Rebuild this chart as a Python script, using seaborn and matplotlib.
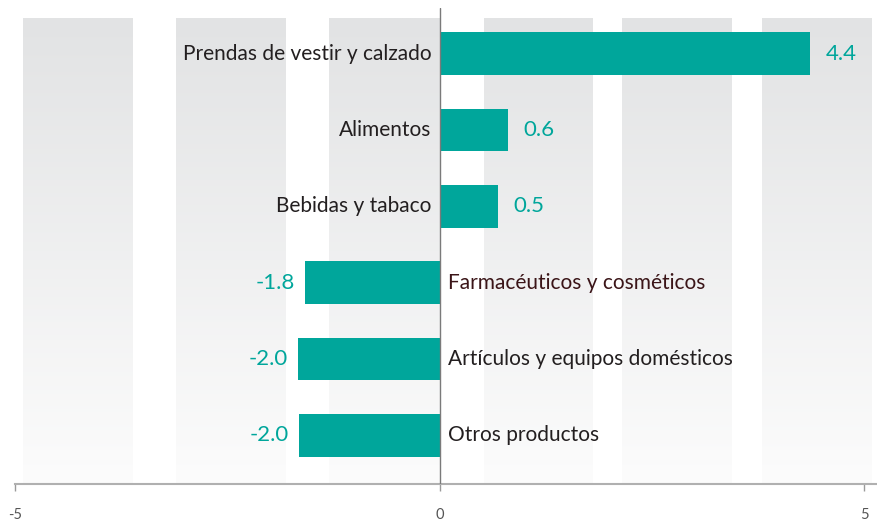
import numpy as np
import pandas as pd
import matplotlib.pyplot as plt
import seaborn as sns

# Categories and values shown on the chart
categories = ["Prendas de vestir y calzado", "Alimentos", "Bebidas y tabaco",
              "Farmacéuticos y cosméticos", "Artículos y equipos domésticos", "Otros productos"]
value_labels = ["4.4", "0.6", "0.5", "-1.8", "-2.0", "-2.0"]
bar_len = [4.36, 0.80, 0.69, -1.59, -1.67, -1.66]
label_colors = ["#231f20", "#231f20", "#231f20", "#3b1518", "#231f20", "#231f20"]

x_ticks = [-5, 0, 5]

teal = "#00a69b"

df = pd.DataFrame({"categoria": categories, "valor": bar_len})

sns.set_style("white")
plt.rcParams["font.family"] = ["Lato", "DejaVu Sans"]

fig = plt.figure(figsize=(8.78, 5.23), dpi=100)
ax = fig.add_axes([15 / 878, 39 / 523, 863 / 878, 476 / 523])

# grey gradient columns in the background
bands = [(-4.90, -3.61), (-3.10, -1.81), (-1.30, 0.0), (0.52, 1.80), (2.15, 3.44), (3.80, 5.09)]
band_top, band_bottom = -0.465, 5.635
grad = np.linspace(0, 1, 256).reshape(-1, 1)
cmap = sns.blend_palette(["#e2e3e4", "#fcfcfc"], as_cmap=True)
for x0, x1 in bands:
    ax.imshow(grad, extent=(x0, x1, band_bottom, band_top), aspect="auto",
              cmap=cmap, zorder=0, interpolation="bilinear")

sns.barplot(data=df, y="categoria", x="valor", orient="h", color=teal,
            width=0.56, saturation=1, linewidth=0, ax=ax, zorder=2)

ax.set_xlim(-5, 5.16)
ax.set_ylim(5.635, -0.596)

# zero line
ax.axvline(0, color="#7a7a7a", lw=1.0, zorder=3)

for i, (v, lab, col) in enumerate(zip(bar_len, value_labels, label_colors)):
    if v >= 0:
        ax.annotate(categories[i], (0, i), xytext=(-6, 0), textcoords="offset points",
                    ha="right", va="center", fontsize=15, color=col, zorder=4)
        ax.annotate(lab, (v, i), xytext=(11, 0), textcoords="offset points",
                    ha="left", va="center", fontsize=16, color=teal, zorder=4)
    else:
        ax.annotate(categories[i], (0, i), xytext=(6, 0), textcoords="offset points",
                    ha="left", va="center", fontsize=15, color=col, zorder=4)
        ax.annotate(lab, (v, i), xytext=(-7, 0), textcoords="offset points",
                    ha="right", va="center", fontsize=16, color=teal, zorder=4)

ax.set_yticks([])
ax.set_ylabel("")
ax.set_xlabel("")
ax.set_xticks(x_ticks)
ax.set_xticklabels([str(t) for t in x_ticks])
ax.tick_params(axis="x", length=5, width=1, color="#9a9a9a", pad=12,
               labelsize=10.5, labelcolor="#555555", direction="out", bottom=True)
ax.set_facecolor("none")

for s in ["top", "right", "left"]:
    ax.spines[s].set_visible(False)
ax.spines["bottom"].set_color("#b0b0b0")
ax.spines["bottom"].set_linewidth(1.5)

fig.savefig("out.png", dpi=100, facecolor="white")
